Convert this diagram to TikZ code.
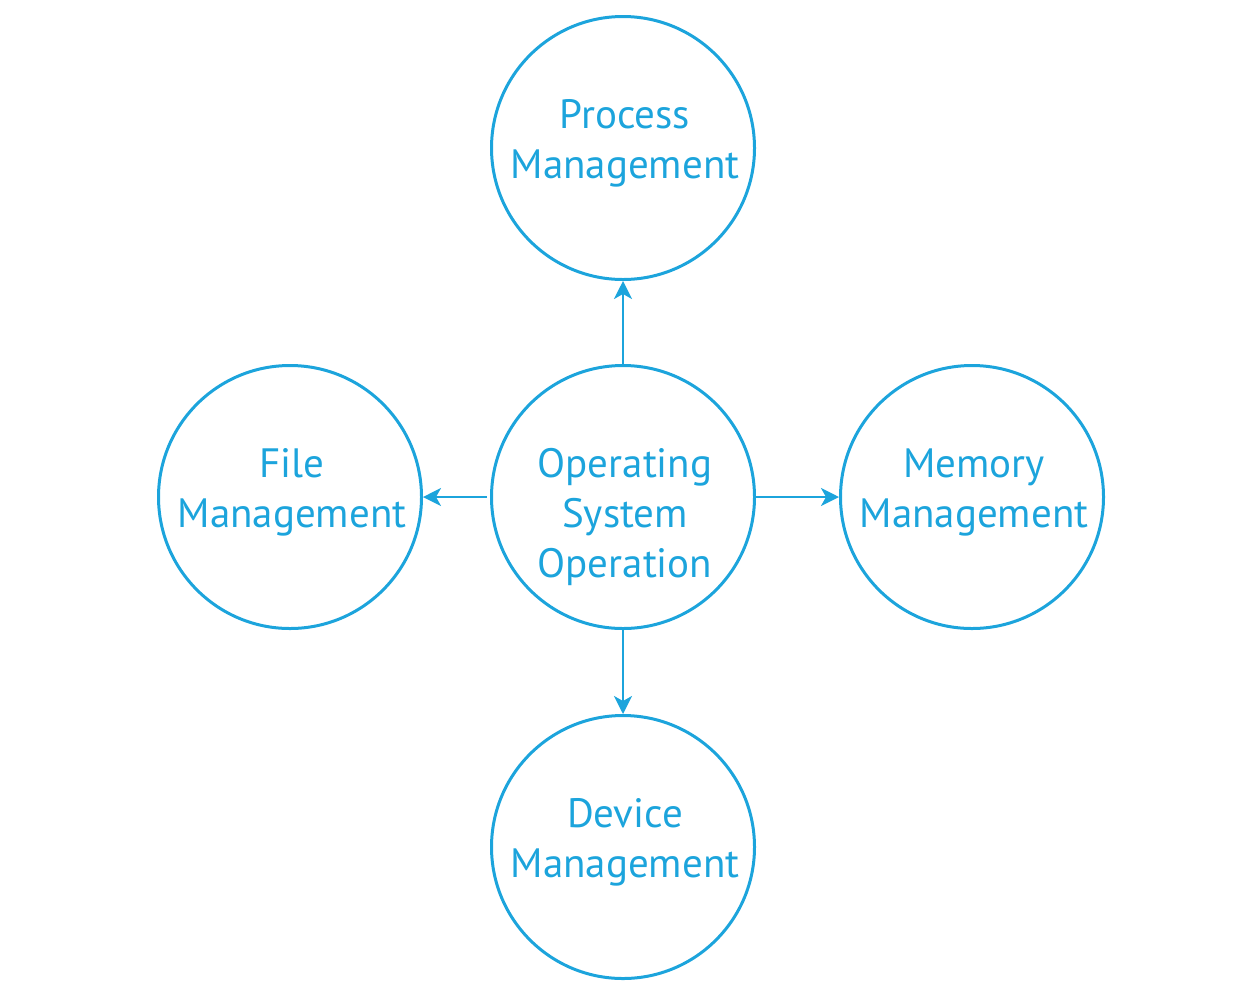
\documentclass[tikz,border=0pt]{standalone}
\usepackage{fontspec}
\setmainfont{PT Sans}
\usetikzlibrary{arrows.meta}
\definecolor{osblue}{HTML}{1CA4DC}
\tikzset{
  circ/.style={circle, draw=osblue, line width=3pt, minimum size=263pt, inner sep=0pt},
  lbl/.style={text=osblue, font=\fontsize{41}{50}\selectfont, align=center, anchor=base, inner sep=0pt},
  conn/.style={draw=osblue, line width=2.4pt, -{Stealth[length=18pt, width=18pt, inset=5pt]}}
}
\begin{document}
\begin{tikzpicture}[x=1pt,y=-1pt]
\useasboundingbox (0,0) rectangle (1241,997);
\node[circ] (os) at (623,497) {};
\node[circ] (pm) at (623,148) {};
\node[circ] (fm) at (290,497) {};
\node[circ] (mm) at (972,497) {};
\node[circ] (dm) at (623,847) {};
\node[lbl] (tos) at (625,577) {Operating\\System\\Operation};
\node[lbl] (tpm) at (625,178) {Process\\Management};
\node[lbl] (tfm) at (292,527) {File\\Management};
\node[lbl] (tmm) at (974,527) {Memory\\Management};
\node[lbl] (tdm) at (625,877) {Device\\Management};
\draw[conn] (os.north) -- (pm.south);
\draw[conn, shorten <=3pt] (os.west) -- (fm.east);
\draw[conn] (os.east) -- (mm.west);
\draw[conn] (os.south) -- (dm.north);
\end{tikzpicture}
\end{document}
